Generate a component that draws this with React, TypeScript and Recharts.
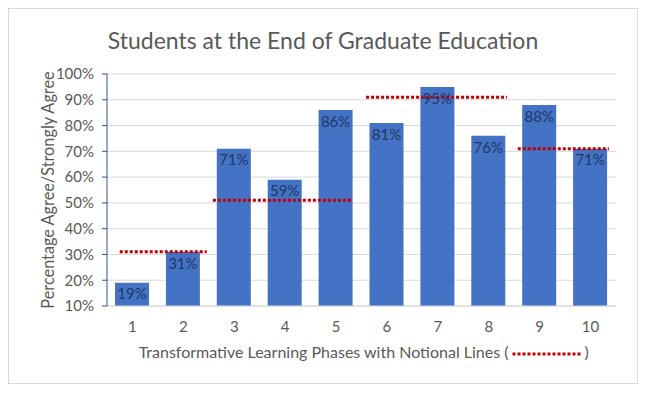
import React from "react";
import {
  BarChart,
  Bar,
  XAxis,
  YAxis,
  CartesianGrid,
  ReferenceLine,
  LabelList,
  Label,
} from "recharts";

const phases = [1, 2, 3, 4, 5, 6, 7, 8, 9, 10];
const agreePct = [19, 31, 71, 59, 86, 81, 95, 76, 88, 71];
const yTicks = [10, 20, 30, 40, 50, 60, 70, 80, 90, 100];

// notional lines: level and the phase span each one covers
const notionalLevel = [31, 51, 91, 71];
const notionalFrom = [0.75, 2.58, 5.59, 8.57];
const notionalTo = [2.46, 5.33, 8.36, 10.36];

const FONT = "Lato, 'Open Sans', sans-serif";
const GREY = "#595959";
const DOT_RED = "#C00000";

const chartData = phases.map((p, i) => ({ phase: p, pct: agreePct[i] }));

function XTitle({ viewBox }: any) {
  const cx = viewBox.x + viewBox.width / 2;
  const y = viewBox.y + 52;
  return (
    <g>
      <text x={cx + 147} y={y} textAnchor="end" fill={GREY} fontSize={16} fontFamily={FONT}>
        Transformative Learning Phases with Notional Lines (
      </text>
      <line
        x1={cx + 151}
        x2={cx + 221}
        y1={y - 4}
        y2={y - 4}
        stroke={DOT_RED}
        strokeWidth={3}
        strokeDasharray="3 2"
      />
      <text x={cx + 223} y={y} fill={GREY} fontSize={16} fontFamily={FONT}>
        )
      </text>
    </g>
  );
}

function YTitle({ viewBox }: any) {
  const cx = viewBox.x - 2;
  const cy = viewBox.y + viewBox.height / 2;
  return (
    <text
      x={cx}
      y={cy}
      transform={`rotate(-90 ${cx} ${cy})`}
      textAnchor="middle"
      dominantBaseline="central"
      fill={GREY}
      fontSize={16.3}
      fontFamily={FONT}
    >
      Percentage Agree/Strongly Agree
    </text>
  );
}

export default function App() {
  return (
    <div
      style={{
        position: "relative",
        width: 628,
        height: 374,
        border: "1px solid #d9d9d9",
        fontFamily: FONT,
        background: "#fff",
      }}
    >
      <div
        style={{
          position: "absolute",
          left: 0,
          top: 20,
          width: 628,
          textAlign: "center",
          fontSize: 23,
          lineHeight: 1,
          color: GREY,
        }}
      >
        Students at the End of Graduate Education
      </div>
      <BarChart
        width={628}
        height={374}
        data={chartData}
        margin={{ top: 65, right: 21, left: 40, bottom: 27 }}
      >
        <CartesianGrid vertical={false} stroke="#d9d9d9" />
        <XAxis
          type="number"
          dataKey="phase"
          domain={[0.5, 10.5]}
          ticks={phases}
          height={50}
          tickLine={false}
          tickSize={6}
          tickMargin={9}
          axisLine={{ stroke: "#d9d9d9" }}
          tick={{ fill: GREY, fontSize: 15, fontFamily: FONT }}
          interval={0}
        >
          <Label content={<XTitle />} />
        </XAxis>
        <YAxis
          type="number"
          domain={[10, 100]}
          ticks={yTicks}
          width={58}
          tickFormatter={(v: number) => `${v}%`}
          axisLine={{ stroke: "#2F5597" }}
          tickLine={{ stroke: "#2F5597" }}
          tickSize={5}
          tickMargin={8}
          tick={{ fill: GREY, fontSize: 15, fontFamily: FONT }}
          interval={0}
        >
          <Label content={<YTitle />} />
        </YAxis>
        <Bar dataKey="pct" fill="#4472C4" barSize={34} isAnimationActive={false}>
          <LabelList
            dataKey="pct"
            position="insideTop"
            offset={6}
            formatter={(v: any) => `${v}%`}
            fill="#203864"
            fontSize={15}
            fontFamily={FONT}
          />
        </Bar>
        {notionalLevel.map((lvl, i) => (
          <ReferenceLine
            key={i}
            segment={[
              { x: notionalFrom[i], y: lvl },
              { x: notionalTo[i], y: lvl },
            ]}
            stroke={DOT_RED}
            strokeWidth={3}
            strokeDasharray="3 2"
            ifOverflow="visible"
          />
        ))}
      </BarChart>
    </div>
  );
}
